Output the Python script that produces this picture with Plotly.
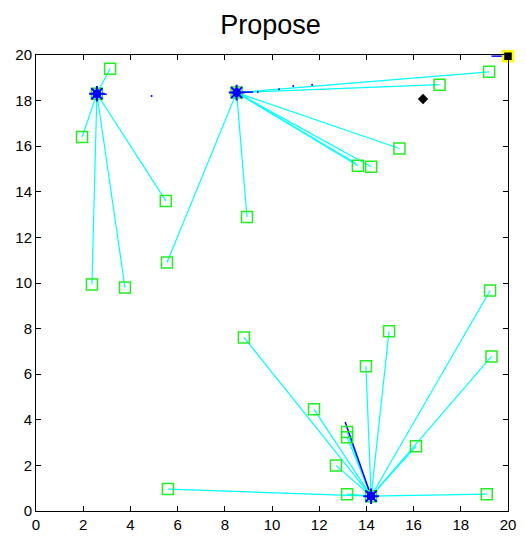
import plotly.graph_objects as go

# Cluster heads (blue stars)
head_x = [2.58, 8.5, 14.2]
head_y = [18.3, 18.35, 0.65]

# Member nodes (green squares) and the head index each one links to
node_x = [3.14, 1.95, 5.5, 2.37, 3.77,
          5.55, 8.94, 13.64, 14.2, 15.4, 17.1, 19.2,
          8.81, 14.96, 13.98, 19.3, 19.24, 11.78, 13.18, 13.18, 12.71, 16.1, 13.18, 19.1, 5.59]
node_y = [19.4, 16.4, 13.6, 9.93, 9.8,
          10.9, 12.9, 15.14, 15.1, 15.9, 18.7, 19.26,
          7.61, 7.88, 6.35, 6.78, 9.67, 4.46, 3.46, 3.24, 2.0, 2.84, 0.74, 0.74, 0.96]
node_head = [0, 0, 0, 0, 0,
             1, 1, 1, 1, 1, 1, 1,
             2, 2, 2, 2, 2, 2, 2, 2, 2, 2, 2, 2, 2]

# Extra duplicate link (double line) in cluster 2
extra_from = [1]
extra_to_x = [13.55]
extra_to_y = [15.25]

# Blue link traces (short dark blue segments)
blue_x0 = [2.58, 8.5, 14.2, 19.3]
blue_y0 = [18.3, 18.35, 0.65, 19.95]
blue_x1 = [3.0, 9.2, 13.1, 20.0]
blue_y1 = [18.28, 18.38, 3.9, 19.95]

# Small blue dots along the upper path
dot_x = [4.9, 9.4, 10.3, 10.9, 11.7]
dot_y = [18.2, 18.38, 18.5, 18.64, 18.7]

# Sink (yellow-edged square) and black diamond
sink_x = [20.0]
sink_y = [19.95]
diam_x = [16.4]
diam_y = [18.07]

fig = go.Figure()

lx, ly = [], []
for x, y, h in zip(node_x, node_y, node_head):
    lx += [head_x[h], x, None]
    ly += [head_y[h], y, None]
for h, x, y in zip(extra_from, extra_to_x, extra_to_y):
    lx += [head_x[h], x, None]
    ly += [head_y[h], y, None]
fig.add_trace(go.Scatter(x=lx, y=ly, mode="lines", cliponaxis=False,
                         line=dict(color="#00ffff", width=1.2), hoverinfo="skip"))

bx, by = [], []
for a, b, c, d in zip(blue_x0, blue_y0, blue_x1, blue_y1):
    bx += [a, c, None]
    by += [b, d, None]
fig.add_trace(go.Scatter(x=bx, y=by, mode="lines", cliponaxis=False,
                         line=dict(color="#0000ff", width=1.5), hoverinfo="skip"))

fig.add_trace(go.Scatter(x=dot_x, y=dot_y, mode="markers",
                         marker=dict(color="#0000ff", size=2)))

fig.add_trace(go.Scatter(x=node_x + head_x, y=node_y + head_y, mode="markers",
                         marker=dict(symbol="square-open", size=11,
                                     color="#22ee22", line=dict(width=1.5))))

fig.add_trace(go.Scatter(x=head_x, y=head_y, mode="markers",
                         marker=dict(symbol="circle", size=9, color="#0000ff")))
fig.add_trace(go.Scatter(x=head_x, y=head_y, mode="markers",
                         marker=dict(symbol="asterisk-open", size=13,
                                     color="#0000ff", line=dict(width=2, color="#0000ff"))))

fig.add_trace(go.Scatter(x=diam_x, y=diam_y, mode="markers",
                         marker=dict(symbol="diamond", size=8, color="black")))

fig.add_trace(go.Scatter(x=sink_x, y=sink_y, mode="markers", cliponaxis=False,
                         marker=dict(symbol="square", size=10, color="black",
                                     line=dict(color="#ffff00", width=2.5))))

axis_common = dict(range=[0, 20], dtick=2, tick0=0, showgrid=False, zeroline=False,
                   ticks="inside", ticklen=5, tickwidth=1, tickcolor="black",
                   showline=True, linecolor="black", linewidth=1, mirror="ticks",
                   automargin=False,
                   tickfont=dict(family="Liberation Sans, Arial", size=15, color="black"))

fig.update_layout(
    width=526, height=537,
    margin=dict(l=28, r=26, t=47, b=34),
    paper_bgcolor="white", plot_bgcolor="white",
    showlegend=False,
    title=dict(text="Propose", x=262.5 / 526, xanchor="center", y=1, yanchor="top",
               pad=dict(t=7),
               font=dict(family="Liberation Sans, Arial", size=27, color="black")),
    xaxis=axis_common,
    yaxis=axis_common,
)

fig.write_html("out.html")
